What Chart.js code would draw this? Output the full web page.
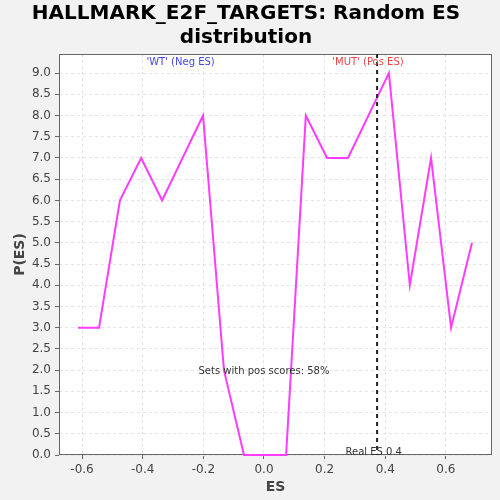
<!DOCTYPE html>
<html>
<head>
<meta charset="utf-8">
<script src="https://cdn.jsdelivr.net/npm/chart.js@4/dist/chart.umd.min.js"></script>
<style>
  body { margin: 0; background: #f2f2f2; }
  #wrap { width: 500px; height: 500px; }
</style>
</head>
<body>
<div id="wrap"><canvas id="esChart" width="500" height="500"></canvas></div>
<script>
// ES bin centres and their counts
const esValues = [-0.613, -0.544, -0.475, -0.405, -0.336, -0.201, -0.132, -0.066, 0.073, 0.138, 0.208, 0.277, 0.412, 0.481, 0.551, 0.617, 0.686];
const pValues = [3, 3, 6, 7, 6, 8, 2, 0, 0, 8, 7, 7, 9, 4, 7, 3, 5];
const xTicks = [-0.6, -0.4, -0.2, 0.0, 0.2, 0.4, 0.6];
const yTicks = [0, 0.5, 1, 1.5, 2, 2.5, 3, 3.5, 4, 4.5, 5, 5.5, 6, 6.5, 7, 7.5, 8, 8.5, 9];
const realES = 0.373;
const posScoreText = 'Sets with pos scores: 58%';

const FONT = "'DejaVu Sans', sans-serif";

const decorations = {
    id: 'decorations',
    beforeDraw(chart) {
        const { ctx, chartArea: a } = chart;
        ctx.save();
        ctx.fillStyle = '#ffffff';
        ctx.fillRect(a.left, a.top, a.right - a.left, a.bottom - a.top);
        ctx.restore();
    },
    beforeDatasetsDraw(chart) {
        // plot border, under the line
        const { ctx, chartArea: a } = chart;
        ctx.save();
        ctx.strokeStyle = '#666666';
        ctx.lineWidth = 1;
        ctx.strokeRect(a.left + 0.5, a.top + 0.5, a.right - a.left - 1, a.bottom - a.top - 1);
        ctx.restore();
    },
    afterDatasetsDraw(chart) {
        const { ctx, chartArea: a, scales } = chart;
        const x = scales.x, y = scales.y;
        ctx.save();
        // real ES marker
        const rx = x.getPixelForValue(realES);
        ctx.strokeStyle = '#222222';
        ctx.lineWidth = 2;
        ctx.setLineDash([4, 4]);
        ctx.beginPath();
        ctx.moveTo(rx, a.top);
        ctx.lineTo(rx, a.bottom);
        ctx.stroke();
        ctx.setLineDash([]);

        ctx.font = '10px ' + FONT;
        ctx.textAlign = 'center';
        ctx.textBaseline = 'middle';
        ctx.fillStyle = '#4444ee';
        ctx.fillText("'WT' (Neg ES)", x.getPixelForValue(-0.275), y.getPixelForValue(9.25));
        ctx.fillStyle = '#ee4444';
        ctx.fillText("'MUT' (Pos ES)", x.getPixelForValue(0.343), y.getPixelForValue(9.25));
        ctx.fillStyle = '#333333';
        ctx.fillText(posScoreText, x.getPixelForValue(0.0), y.getPixelForValue(1.98));
        ctx.fillText('Real ES 0.4', x.getPixelForValue(0.362), y.getPixelForValue(0.06));
        ctx.restore();
    }
};

new Chart(document.getElementById('esChart').getContext('2d'), {
    type: 'scatter',
    data: {
        datasets: [{
            data: esValues.map((v, i) => ({ x: v, y: pValues[i] })),
            showLine: true,
            borderColor: '#ff3cff',
            borderWidth: 2,
            pointRadius: 0,
            tension: 0,
            fill: false,
            clip: 3
        }]
    },
    options: {
        responsive: false,
        animation: false,
        layout: { padding: { top: 0, right: 8, bottom: 0, left: 0 } },
        plugins: {
            legend: { display: false },
            tooltip: { enabled: false },
            title: {
                display: true,
                text: ['HALLMARK_E2F_TARGETS: Random ES', 'distribution'],
                color: '#000000',
                font: { family: FONT, size: 20, weight: 'bold', lineHeight: 1.2 },
                padding: { top: 2, bottom: 4 }
            }
        },
        scales: {
            x: {
                type: 'linear',
                min: -0.676,
                max: 0.752,
                afterBuildTicks: s => { s.ticks = xTicks.map(v => ({ value: v })); },
                afterFit: s => { s.height = 45; },
                ticks: {
                    color: '#444444',
                    font: { family: FONT, size: 12 },
                    padding: 4,
                    callback: v => v.toFixed(1)
                },
                grid: {
                    color: '#e4e4e4',
                    tickColor: '#666666',
                    tickLength: 4,
                    drawOnChartArea: true
                },
                border: { display: false, dash: [3, 3] },
                title: {
                    display: true,
                    text: 'ES',
                    color: '#444444',
                    font: { family: FONT, size: 14, weight: 'bold' },
                    padding: { top: 2, bottom: 4 }
                }
            },
            y: {
                type: 'linear',
                min: 0,
                max: 9.45,
                afterBuildTicks: s => { s.ticks = yTicks.map(v => ({ value: v })); },
                afterFit: s => { s.width = 59; },
                ticks: {
                    color: '#444444',
                    font: { family: FONT, size: 12 },
                    padding: 4,
                    callback: v => v.toFixed(1)
                },
                grid: {
                    color: '#e4e4e4',
                    tickColor: '#666666',
                    tickLength: 4
                },
                border: { display: false, dash: [3, 3] },
                title: {
                    display: true,
                    text: 'P(ES)',
                    color: '#444444',
                    font: { family: FONT, size: 14, weight: 'bold' },
                    padding: { top: 12, bottom: 2 }
                }
            }
        }
    },
    plugins: [decorations]
});
</script>
</body>
</html>
